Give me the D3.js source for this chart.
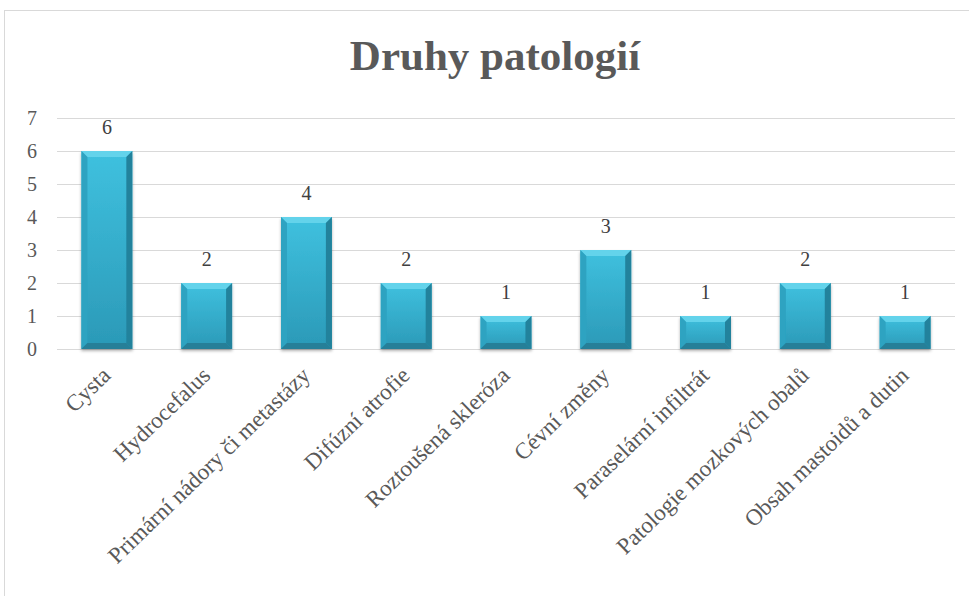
<!DOCTYPE html>
<html>
<head>
<meta charset="utf-8">
<script src="https://cdn.jsdelivr.net/npm/d3@7"></script>
<style>
  body { margin: 0; background: #fff; }
  svg { display: block; }
  text { font-family: "Liberation Serif", "Times New Roman", serif; }
</style>
</head>
<body>
<svg width="969" height="596"></svg>
<script>
var titleText = "Druhy patologií"
var categories = ["Cysta", "Hydrocefalus", "Primární nádory či metastázy", "Difúzní atrofie",
  "Roztoušená skleróza", "Cévní změny", "Paraselární infiltrát", "Patologie mozkových obalů",
  "Obsah mastoidů a dutin"]
var values = [6, 2, 4, 2, 1, 3, 1, 2, 1]
var yTicks = [0, 1, 2, 3, 4, 5, 6, 7]

var svg = d3.select("svg")
var defs = svg.append("defs")

var face = defs.append("linearGradient").attr("id", "face").attr("x1", 0).attr("y1", 0).attr("x2", 0).attr("y2", 1)
face.append("stop").attr("offset", "0%").attr("stop-color", "#3fc1df")
face.append("stop").attr("offset", "100%").attr("stop-color", "#2b99b7")

defs.append("filter").attr("id", "shadow").attr("x", "-20%").attr("y", "-20%").attr("width", "140%").attr("height", "140%")
  .append("feDropShadow").attr("dx", 0).attr("dy", 2).attr("stdDeviation", 1.5)
  .attr("flood-color", "#000").attr("flood-opacity", 0.3)

// chart border
svg.append("rect").attr("x", 4.5).attr("y", 10.5).attr("width", 980).attr("height", 600)
  .attr("fill", "none").attr("stroke", "#d9d9d9")

var x = d3.scaleBand().domain(categories).range([57, 955]).paddingInner(0.49).paddingOuter(0.245)
var y = d3.scaleLinear().domain([0, 7]).range([349, 118])

// gridlines
svg.append("g").selectAll("line").data(yTicks).enter().append("line")
  .attr("x1", 57).attr("x2", 955)
  .attr("y1", d => y(d) + 0.5).attr("y2", d => y(d) + 0.5)
  .attr("stroke", "#d9d9d9").attr("stroke-width", 1)

// y tick labels
svg.append("g").selectAll("text").data(yTicks).enter().append("text")
  .attr("x", 37).attr("y", d => y(d) + 7)
  .attr("text-anchor", "end").attr("font-size", 20).attr("fill", "#595959")
  .text(d => d)

svg.append("text").attr("x", 495).attr("y", 70).attr("text-anchor", "middle")
  .attr("font-size", 43).attr("font-weight", "bold").attr("fill", "#595959")
  .text(titleText)

var b = 6
var bars = svg.append("g").selectAll("g").data(values).enter().append("g")
  .attr("filter", "url(#shadow)")

bars.each(function(d, i) {
  var g = d3.select(this)
  var x0 = x(categories[i]), x1 = x0 + x.bandwidth()
  var y0 = y(d), y1 = y(0)
  g.append("rect").attr("x", x0).attr("y", y0).attr("width", x1 - x0).attr("height", y1 - y0).attr("fill", "url(#face)")
  g.append("polygon").attr("points", [[x0, y0], [x1, y0], [x1 - b, y0 + b], [x0 + b, y0 + b]].join(" ")).attr("fill", "#64d3eb")
  g.append("polygon").attr("points", [[x0, y0], [x0 + b, y0 + b], [x0 + b, y1 - b], [x0, y1]].join(" ")).attr("fill", "#2da3c1")
  g.append("polygon").attr("points", [[x1, y0], [x1 - b, y0 + b], [x1 - b, y1 - b], [x1, y1]].join(" ")).attr("fill", "#21829c")
  g.append("polygon").attr("points", [[x0, y1], [x0 + b, y1 - b], [x1 - b, y1 - b], [x1, y1]].join(" ")).attr("fill", "#257f98")
})

// data labels
svg.append("g").selectAll("text").data(values).enter().append("text")
  .attr("x", (d, i) => x(categories[i]) + x.bandwidth() / 2)
  .attr("y", d => y(d) - 17)
  .attr("text-anchor", "middle").attr("font-size", 20).attr("fill", "#404040")
  .text(d => d)

// category labels
svg.append("g").selectAll("text").data(categories).enter().append("text")
  .attr("transform", d => `translate(${x(d) + x.bandwidth() / 2 + 5},377) rotate(-44)`)
  .attr("text-anchor", "end").attr("font-size", 23).attr("fill", "#595959")
  .text(d => d)
</script>
</body>
</html>
